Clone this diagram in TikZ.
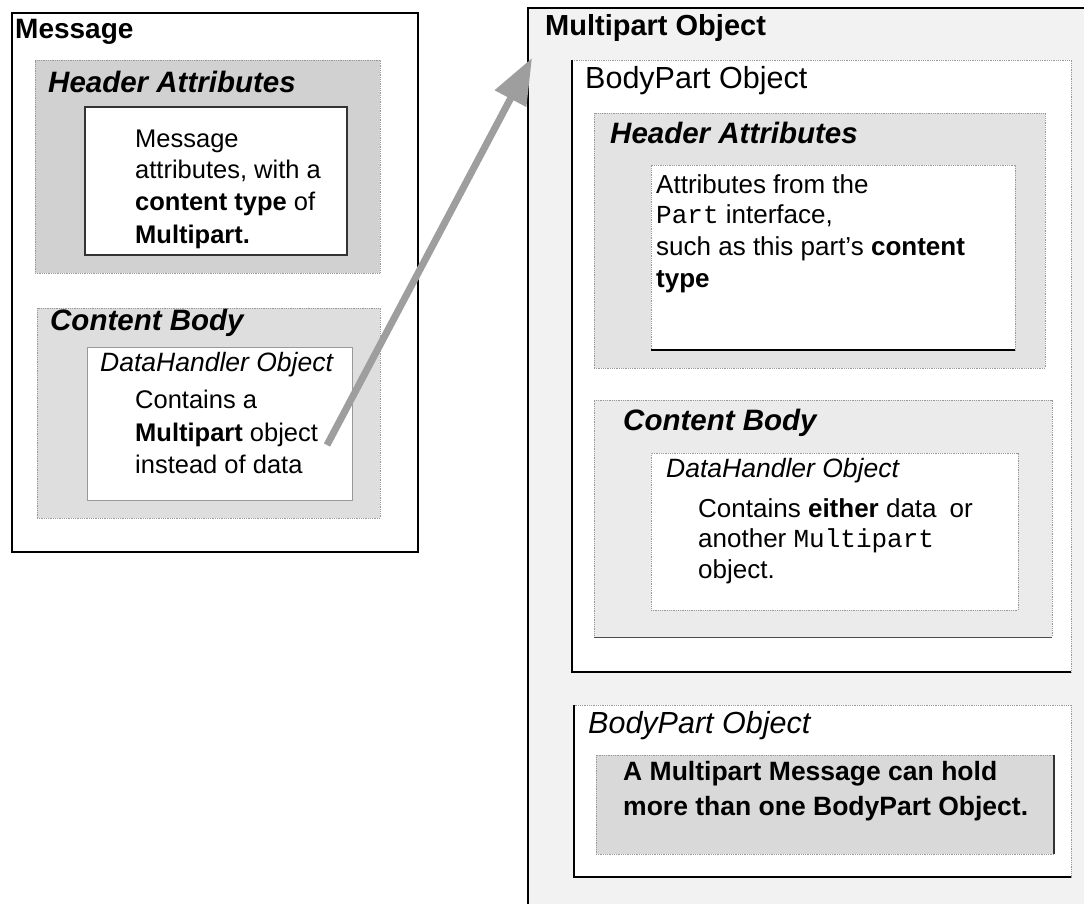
\documentclass[tikz,border=0pt]{standalone}
\usepackage{fontspec}
\setmainfont{Liberation Sans}
\setmonofont{Liberation Mono}
\usetikzlibrary{arrows.meta}
\definecolor{hdrL}{gray}{0.82}
\definecolor{cntL}{gray}{0.87}
\definecolor{outerR}{gray}{0.95}
\definecolor{hdrR}{gray}{0.89}
\definecolor{cntR}{gray}{0.92}
\definecolor{noteR}{gray}{0.85}
\definecolor{arrowc}{gray}{0.62}
\definecolor{edgegray}{gray}{0.6}
\tikzset{
  box/.style={anchor=north west, inner sep=0pt, outer sep=0pt},
  txt/.style={anchor=base west, inner sep=0pt, font=\fontsize{25.5}{30}\selectfont},
  stxt/.style={anchor=base west, inner sep=0pt, font=\fontsize{26}{30}\selectfont},
  ttl/.style={anchor=base west, inner sep=0pt, font=\fontsize{29}{34}\selectfont\bfseries},
  ttli/.style={anchor=base west, inner sep=0pt, font=\fontsize{29.5}{34}\selectfont\bfseries\itshape},
  dhtxt/.style={anchor=base west, inner sep=0pt, font=\fontsize{26.5}{30}\selectfont\itshape},
  bptxt/.style={anchor=base west, inner sep=0pt, font=\fontsize{30.5}{34}\selectfont},
  notetxt/.style={anchor=base west, inner sep=0pt, font=\fontsize{26.5}{30}\selectfont\bfseries},
  dark/.style={draw=black, line width=2pt},
  light/.style={draw=edgegray, line width=0.8pt, densely dotted},
}
\begin{document}
\begin{tikzpicture}[x=1pt,y=-1pt]
\path[use as bounding box, clip] (0,0) rectangle (1084,903);
\fill[white] (0,0) rectangle (1084,903);

% ---------------- Left: Message ----------------
\node[box, draw=black, line width=1.6pt, fill=white, minimum width=406pt, minimum height=539pt] (msg) at (12,13) {};
\node[ttl, font=\fontsize{28}{32}\selectfont\bfseries] (msgT) at (15,38) {Message};

\node[box, fill=hdrL, draw=edgegray, line width=0.8pt, densely dotted, minimum width=345pt, minimum height=213pt] (hdrL) at (35,60) {};
\node[ttli] (hdrLT) at (48,92) {Header Attributes};
\node[box, fill=white, draw=black!80, line width=1.2pt, minimum width=262pt, minimum height=148pt] (inL1) at (85,107) {};
\node[txt] (l1a) at (135,147) {Message};
\node[txt] (l1b) at (135,178) {attributes, with a};
\node[txt] (l1c) at (135,210) {\textbf{content type} of};
\node[txt] (l1d) at (135,243) {\textbf{Multipart.}};

\node[box, fill=cntL, draw=edgegray, line width=0.8pt, densely dotted, minimum width=343pt, minimum height=210pt] (cntL) at (37,308) {};
\node[ttli] (cntLT) at (50,330) {Content Body};
\node[box, fill=white, draw=edgegray, line width=1pt, minimum width=265pt, minimum height=153pt] (inL2) at (87,347) {};
\node[dhtxt] (dhL) at (100,371) {DataHandler Object};
\node[txt] (l2a) at (135,408) {Contains a};
\node[txt] (l2b) at (135,441) {\textbf{Multipart} object};
\node[txt] (l2c) at (135,473) {instead of data};

% ---------------- Right: Multipart Object ----------------
\node[box, fill=outerR, minimum width=600pt, minimum height=940pt] (mp) at (528,8) {};
\draw[black, line width=2pt] (mp.south west) -- (mp.north west) -- (mp.north east);
\node[ttl] (mpT) at (545,35) {Multipart Object};

\node[box, fill=white, light, minimum width=499pt, minimum height=612pt] (bp1) at (572,60) {};
\draw[dark] (bp1.north west) -- (bp1.south west) -- (bp1.south east);
\node[bptxt] (bp1T) at (585,88) {BodyPart Object};

\node[box, fill=hdrR, light, minimum width=451pt, minimum height=255pt] (hdrR) at (594,113) {};
\node[ttli] (hdrRT) at (610,143) {Header Attributes};
\node[box, fill=white, light, minimum width=364pt, minimum height=185pt] (inR1) at (651,165) {};
\draw[black, line width=1.5pt] (inR1.south west) -- (inR1.south east);
\node[stxt] (r1a) at (656,193) {Attributes from the};
\node[stxt] (r1b) at (656,223) {\texttt{Part} interface,};
\node[stxt] (r1c) at (656,255) {such as this part's \textbf{content}};
\node[stxt] (r1d) at (656,287) {\textbf{type}};

\node[box, fill=cntR, light, minimum width=458pt, minimum height=237pt] (cntR) at (594,400) {};
\draw[black!70, line width=1pt] (cntR.south west) -- (cntR.south east);
\node[ttli] (cntRT) at (623,430) {Content Body};
\node[box, fill=white, light, minimum width=367pt, minimum height=157pt] (inR2) at (651,453) {};
\node[dhtxt] (dhR) at (666,477) {DataHandler Object};
\node[stxt] (r2a) at (698,517) {Contains \textbf{either} data\enspace or};
\node[stxt] (r2b) at (698,547) {another \texttt{Multipart}};
\node[stxt] (r2c) at (698,578) {object.};

\node[box, fill=white, light, minimum width=497pt, minimum height=172pt] (bp2) at (574,705) {};
\draw[dark] (bp2.north west) -- (bp2.south west) -- (bp2.south east);
\node[bptxt, font=\fontsize{30.5}{34}\selectfont\itshape] (bp2T) at (588,733) {BodyPart Object};
\node[box, fill=noteR, light, minimum width=458pt, minimum height=99pt] (note) at (596,755) {};
\draw[black!80, line width=1.2pt] (note.north east) -- (note.south east);
\node[notetxt] (n1) at (623,780) {A Multipart Message can hold};
\node[notetxt] (n2) at (623,815) {more than one BodyPart Object.};

% ---------------- Arrow ----------------
\coordinate (atail) at (327,445);
\coordinate (atip) at (532,58);
\draw[arrowc, line width=7pt, -{Triangle[length=46pt,width=34pt]}] (atail) -- (atip);
\end{tikzpicture}
\end{document}
